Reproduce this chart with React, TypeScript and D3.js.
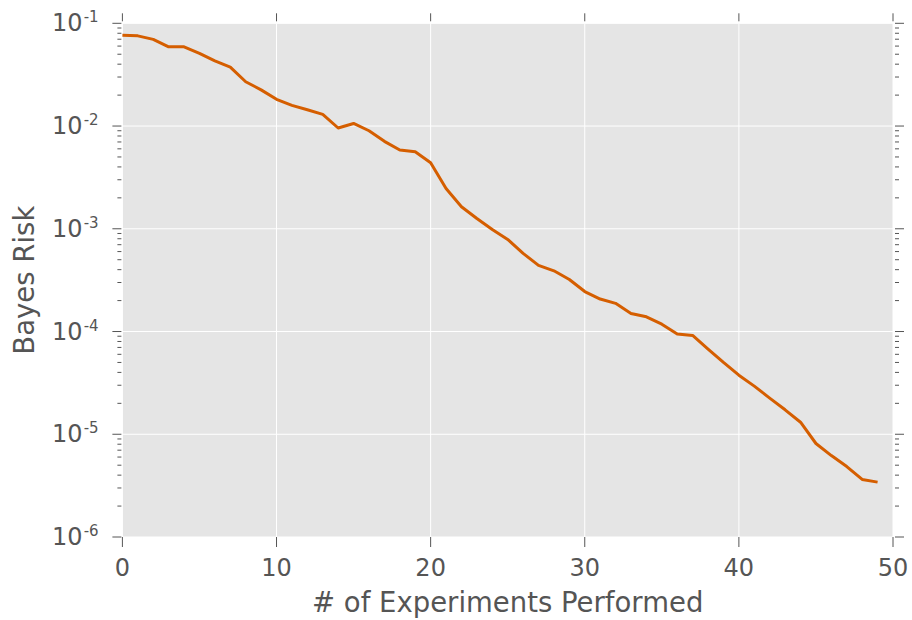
import * as d3 from 'd3';

const experiments: number[] = d3.range(0, 50);

const bayesRisk: number[] = [
  0.0765, 0.0755, 0.0698, 0.059, 0.059, 0.051, 0.043, 0.0375, 0.027, 0.0225,
  0.0182, 0.0159, 0.0144, 0.013, 0.00957, 0.0106, 0.009, 0.0071, 0.00584, 0.00562,
  0.00439, 0.00247, 0.00164, 0.00126, 0.000986, 0.000788, 0.000576, 0.00044, 0.00039, 0.000321,
  0.000245, 0.000207, 0.000188, 0.00015, 0.000139, 0.000118, 9.44e-5, 9.16e-5, 6.75e-5, 5.0e-5,
  3.76e-5, 2.94e-5, 2.25e-5, 1.73e-5, 1.31e-5, 8.13e-6, 6.2e-6, 4.85e-6, 3.63e-6, 3.42e-6,
];

const xTicks: number[] = [0, 10, 20, 30, 40, 50];
const yExponents: number[] = [-1, -2, -3, -4, -5, -6];

export default function App() {
  const width = 912;
  const height = 620;
  const margin = { top: 23.3, right: 19, bottom: 83, left: 122.4 };
  const textColor = '#555555';
  const font = 'DejaVu Sans, sans-serif';

  const x = d3
    .scaleLinear()
    .domain([0, 50])
    .range([margin.left, width - margin.right]);

  const y = d3
    .scaleLog()
    .domain([1e-6, 1e-1])
    .range([height - margin.bottom, margin.top]);

  const line = d3
    .line<number>()
    .x((_, i) => x(experiments[i]))
    .y((d) => y(d));

  // minor ticks at 2..9 x 10^k
  const minorTicks: number[] = [];
  for (let e = -6; e < -1; e++) {
    for (let m = 2; m <= 9; m++) {
      minorTicks.push(m * Math.pow(10, e));
    }
  }

  const x0 = x.range()[0];
  const x1 = x.range()[1];
  const y0 = y.range()[0];
  const y1 = y.range()[1];

  return (
    <svg
      width={width}
      height={height}
      viewBox={`0 0 ${width} ${height}`}
      style={{ position: 'absolute', left: 0, top: 0, background: '#fff' }}
      fontFamily={font}
    >
      <rect x={x0} y={y1} width={x1 - x0} height={y0 - y1} fill="#e5e5e5" />

      {/* grid */}
      {xTicks.map((t) => (
        <line key={`gx${t}`} x1={x(t)} x2={x(t)} y1={y1} y2={y0} stroke="#fff" strokeWidth={1} />
      ))}
      {yExponents.map((e) => (
        <line
          key={`gy${e}`}
          x1={x0}
          x2={x1}
          y1={y(Math.pow(10, e))}
          y2={y(Math.pow(10, e))}
          stroke="#fff"
          strokeWidth={1}
        />
      ))}

      {/* x ticks, top and bottom */}
      {xTicks.map((t) => (
        <g key={`xt${t}`} stroke={textColor} strokeWidth={1}>
          <line x1={x(t)} x2={x(t)} y1={y1 - 10} y2={y1 - 2} />
          <line x1={x(t)} x2={x(t)} y1={y0} y2={y0 + 10} />
        </g>
      ))}
      {xTicks.map((t) => (
        <text
          key={`xl${t}`}
          x={x(t)}
          y={y0 + 38.8}
          textAnchor="middle"
          fontSize={24}
          fill={textColor}
        >
          {t}
        </text>
      ))}

      {/* y ticks, left and right */}
      {yExponents.map((e) => {
        const yy = y(Math.pow(10, e));
        return (
          <g key={`yt${e}`} stroke={textColor} strokeWidth={1}>
            <line x1={x0 - 10} x2={x0 - 1} y1={yy} y2={yy} />
            <line x1={x1 + 2} x2={x1 + 11} y1={yy} y2={yy} />
          </g>
        );
      })}
      {minorTicks.map((v) => (
        <g key={`ym${v}`} stroke={textColor} strokeWidth={1}>
          <line x1={x0 - 5} x2={x0 - 1} y1={y(v)} y2={y(v)} />
          <line x1={x1 + 2} x2={x1 + 6} y1={y(v)} y2={y(v)} />
        </g>
      ))}
      {yExponents.map((e) => (
        <text
          key={`yl${e}`}
          x={98.6}
          y={y(Math.pow(10, e)) + 8}
          textAnchor="end"
          fontSize={24}
          fill={textColor}
        >
          10
          <tspan dx={1.2} dy={-9} fontSize={15}>
            {`-${-e}`}
          </tspan>
        </text>
      ))}

      {/* data line */}
      <path
        d={line(bayesRisk) as string}
        fill="none"
        stroke="#d55e00"
        strokeWidth={3}
        strokeLinejoin="round"
      />

      {/* axis labels */}
      <text
        x={(x0 + x1) / 2}
        y={612}
        textAnchor="middle"
        fontSize={27.5}
        fill={textColor}
      >
        # of Experiments Performed
      </text>
      <text
        transform={`translate(33.5,${(y0 + y1) / 2}) rotate(-90)`}
        textAnchor="middle"
        fontSize={27.5}
        fill={textColor}
      >
        Bayes Risk
      </text>
    </svg>
  );
}
